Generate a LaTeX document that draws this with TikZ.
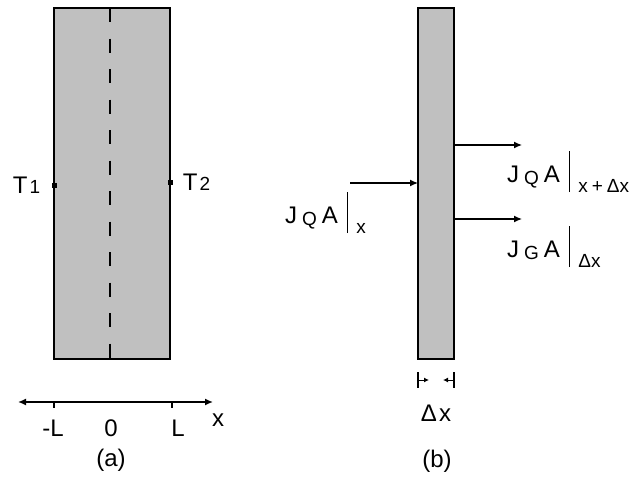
\documentclass[tikz,border=0pt]{standalone}
\usepackage{fontspec}
\setmainfont{Liberation Sans}
\usetikzlibrary{arrows.meta,positioning,calc}
\definecolor{slabgray}{RGB}{192,192,192}
\newcommand{\subfnt}{\fontsize{19}{19}\selectfont}
\newcommand{\fluxlbl}[2]{J\hspace{5pt}\raisebox{-2pt}{\subfnt #1}\hspace{5pt}A\hspace{9pt}\rule[-10pt]{1.4pt}{41pt}\hspace{8pt}\raisebox{-10pt}{\subfnt #2}}

\begin{document}
\begin{tikzpicture}[x=1pt,y=-1pt,
    slab/.style={draw=black,line width=1.8pt,fill=slabgray},
    flow/.style={-{Latex[length=8pt,width=7pt]},line width=1.3pt},
    lbl/.style={font=\fontsize{24}{24}\selectfont,inner sep=0pt},
    pin/.style={fill=black,inner sep=0pt,minimum size=5pt}]
  \useasboundingbox (0,0) rectangle (642,479);
  % (a) plane wall with mid-plane
  \draw[slab] (54,8) rectangle (170,359);
  \draw[line width=1.5pt,dash pattern=on 14pt off 16.5pt] (110,8) -- (110,359);
  \node[pin] (t1) at (54,185) {};
  \node[pin] (t2) at (170,182) {};
  \node[lbl,left=11pt of t1] (t1lbl) {T\hspace{2pt}{\subfnt 1}};
  \node[lbl,right=10pt of t2] (t2lbl) {T\hspace{2pt}{\subfnt 2}};
  % x axis
  \coordinate (xleft) at (18,402);
  \coordinate (xright) at (213,402);
  \draw[{Latex[length=8pt,width=7pt]}-{Latex[length=8pt,width=7pt]},line width=1.5pt] (xleft) -- (xright);
  \draw[line width=1.5pt] (54,402) -- (54,408);
  \draw[line width=1.5pt] (172,402) -- (172,408);
  \node[lbl] (mL) at (53,428) {-L};
  \node[lbl] (zero) at (111,428) {0};
  \node[lbl] (pL) at (178,428) {L};
  \node[lbl] (xlbl) at (218,420) {x};
  \node[lbl] (capa) at (111,460) {(a)};
  % (b) thin slice
  \draw[slab] (418,8) rectangle (454,359);
  \coordinate (inface) at (418,183);
  \coordinate (outtop) at (454,145);
  \coordinate (outbot) at (454,219);
  \coordinate (instart) at (350,183);
  \coordinate (endtop) at (522,145);
  \coordinate (endbot) at (522,219);
  \draw[flow] (instart) -- (inface);
  \draw[flow] (outtop) -- (endtop);
  \draw[flow] (outbot) -- (endbot);
  \node[lbl,anchor=base west] (fin) at (285,223) {\fluxlbl{Q}{x}};
  \node[lbl,anchor=base west] (fout) at (507,182) {\fluxlbl{Q}{x\hspace{4pt}+\hspace{4pt}Δx}};
  \node[lbl,anchor=base west] (fgen) at (507,257) {\fluxlbl{G}{Δx}};
  % thickness of the slice
  \draw[line width=1.3pt] (418,372) -- (418,388);
  \draw[line width=1.3pt] (454,372) -- (454,388);
  \draw[-{Latex[length=5pt,width=5pt]},line width=1pt] (418,380) -- (429,380);
  \draw[-{Latex[length=5pt,width=5pt]},line width=1pt] (454,380) -- (443,380);
  \node[lbl] (dx) at (436,413) {Δ\hspace{2pt}x};
  \node[lbl] (capb) at (437,461) {(b)};
\end{tikzpicture}
\end{document}
